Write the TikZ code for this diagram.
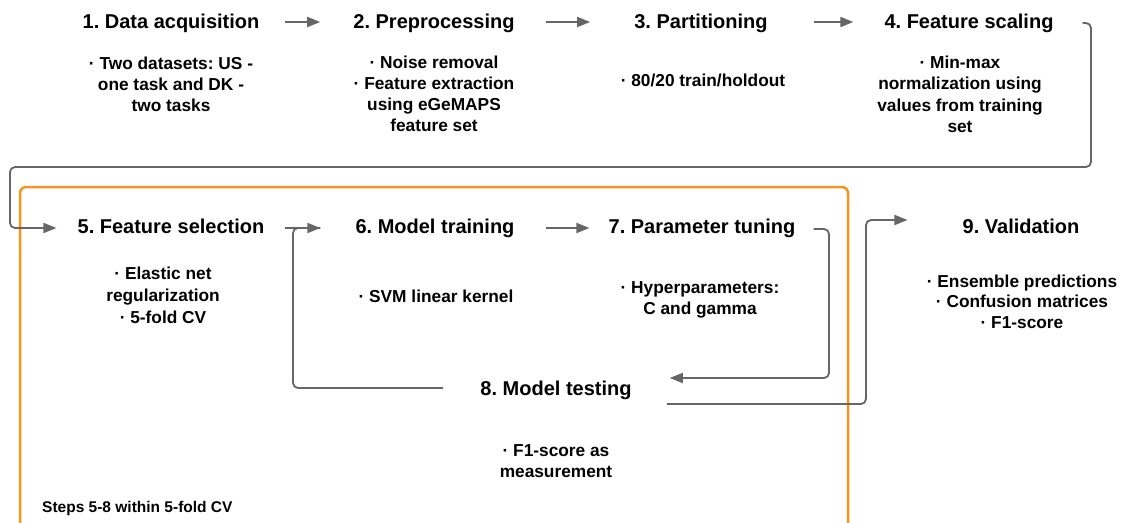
\documentclass[tikz,border=0pt]{standalone}
\usepackage{fontspec}
\setmainfont{Liberation Sans}
\usetikzlibrary{arrows.meta,calc}
\definecolor{arr}{HTML}{666666}
\definecolor{org}{HTML}{F7941D}
\frenchspacing
\tikzset{
  ttl/.style={font=\bfseries\fontsize{20}{24}\selectfont\frenchspacing, inner sep=0pt, anchor=base},
  bdy/.style={font=\bfseries\fontsize{17.3}{21}\selectfont, align=center, inner sep=0pt, anchor=base},
  conn/.style={draw=arr, line width=1.8pt, rounded corners=5pt, -{Triangle[length=13pt,width=10pt]}},
  plain/.style={draw=arr, line width=1.8pt, rounded corners=5pt},
  cvbox/.style={draw=org, line width=2.5pt, rounded corners=6pt}
}
\begin{document}
\begin{tikzpicture}[x=1pt,y=-1pt]
\clip (0,0) rectangle (1121,522);
\fill[white] (0,0) rectangle (1121,522);

% CV box
\draw[cvbox] (20,560) -- (20,187) -- (848,187) -- (848,560);

% row 1 titles
\node[ttl] (t1) at (171,28) {1. Data acquisition};
\node[ttl] (t2) at (434,28) {2. Preprocessing};
\node[ttl] (t3) at (701,28) {3. Partitioning};
\node[ttl] (t4) at (969,28) {4. Feature scaling};

% row 1 bodies (anchor = baseline of last line)
\node[bdy] (b1) at (171,111) {· Two datasets: US -\\one task and DK -\\two tasks};
\node[bdy] (b2) at (434,131) {· Noise removal\\· Feature extraction\\using eGeMAPS\\feature set};
\node[bdy] (b3) at (703,86) {· 80/20 train/holdout};
\node[bdy,font=\bfseries\fontsize{17.3}{21.5}\selectfont] (b4) at (960,132.5) {· Min-max\\normalization using\\values from training\\set};

% row 2 titles
\node[ttl] (t5) at (171,233) {5. Feature selection};
\node[ttl] (t6) at (435,233) {6. Model training};
\node[ttl] (t7) at (702,233) {7. Parameter tuning};
\node[ttl] (t9) at (1021,233) {9. Validation};
\node[ttl] (t8) at (556,395) {8. Model testing};

% row 2 bodies
\node[bdy,font=\bfseries\fontsize{17.3}{22}\selectfont] (b5) at (163,323) {· Elastic net\\regularization\\· 5-fold CV};
\node[bdy] (b6) at (436,302) {· SVM linear kernel};
\node[bdy] (b7) at (700,314) {· Hyperparameters:\\C and gamma};
\node[bdy,font=\bfseries\fontsize{17.3}{20.5}\selectfont] (b9) at (1022,328) {· Ensemble predictions\\· Confusion matrices\\· F1-score};
\node[bdy] (b8) at (556,477) {· F1-score as\\measurement};

% footer
\node[font=\bfseries\fontsize{15.5}{18}\selectfont, inner sep=0pt, anchor=base west] (ft) at (42,512) {Steps 5-8 within 5-fold CV};

% row 1 connectors
\draw[conn] ($(t1.base east)+(25,-6)$) -- ($(t2.base west)+(-33,-6)$);
\draw[conn] ($(t2.base east)+(31,-6)$) -- ($(t3.base west)+(-44,-6)$);
\draw[conn] ($(t3.base east)+(46,-6)$) -- ($(t4.base west)+(-31,-6)$);

% 4 -> 5
\draw[conn] ($(t4.base east)+(29,-5)$) -- (1091,23) -- (1091,167) -- (10,167) -- (10,228) -- ($(t5.base west)+(-21,-5)$);

% 5 -> 6
\draw[conn] ($(t5.base east)+(20,-5)$) -- ($(t6.base west)+(-35,-5)$);
% 8 -> 6 loop
\draw[plain] ($(t8.base west)+(-37,-7)$) -- (293,388) -- (293,228) -- ($(t6.base west)+(-35,-5)$);
% 6 -> 7
\draw[conn] ($(t6.base east)+(31,-5)$) -- ($(t7.base west)+(-19,-5)$);
% 7 -> 8
\draw[conn] ($(t7.base east)+(18,-4)$) -- (829,229) -- (829,378) -- ($(t8.base east)+(38,-17)$);
% 8 -> 9
\draw[conn] ($(t8.base east)+(35,9)$) -- (866,404) -- (866,220) -- ($(t9.base west)+(-55,-13)$);
\end{tikzpicture}
\end{document}
